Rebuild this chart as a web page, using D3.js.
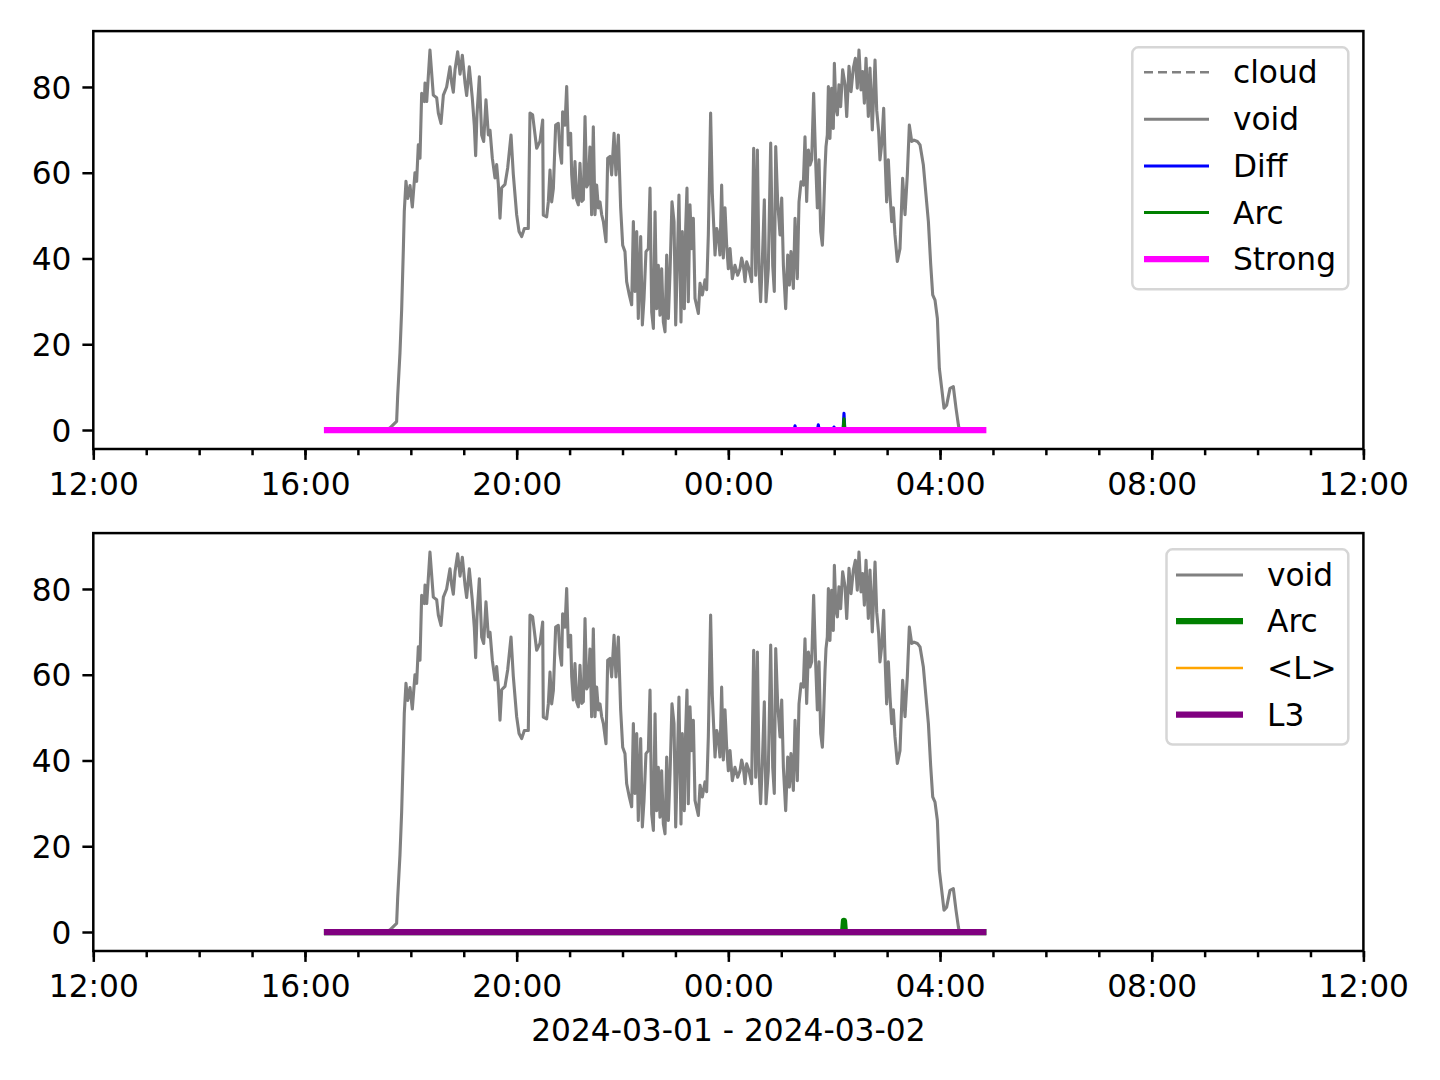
<!DOCTYPE html>
<html>
<head>
<meta charset="utf-8">
<script src="https://cdn.jsdelivr.net/npm/d3@7"></script>
<style>
html,body{margin:0;padding:0;background:#fff;}
svg{display:block;}
text{font-family:"DejaVu Sans",sans-serif;fill:#000;}
</style>
</head>
<body>
<svg id="chart" width="1440" height="1080"></svg>
<script>
// ---- data (minutes after 2024-03-01 12:00) ----
const voidMinutes = [265,330,336.4,343.9,345.1,347.7,349.6,351.5,352.6,354.5,356.4,359.1,361.7,364.7,366.6,368.5,370.4,372.3,375.3,376.1,378.0,381.7,385.5,389.3,391.2,394.2,396.9,400.6,404.4,406.3,408.2,410.1,413.1,415.8,418.4,421.4,423.3,426.3,429.7,432.0,433.5,435.0,437.7,440.3,442.6,445.2,447.9,449.8,452.4,455.4,457.3,459.2,461.1,463.0,466.8,469.8,473.6,476.2,480.0,482.7,485.7,488.7,493.2,
495.1,498.1,502.7,506.4,509.5,510.2,514.0,515.9,517.8,519.7,521.6,524.2,527.2,529.1,531.0,532.1,534.8,536.7,538.6,541.2,542.4,544.2,546.1,548.0,549.9,551.8,553.7,555.6,557.5,559.4,561.3,563.1,565.0,566.9,568.8,570.7,572.6,574.5,576.4,578.3,581.3,583.2,585.8,587.7,590.4,592.6,595.3,597.9,600.2,602.8,604.7,607.7,610.4,612.3,614.2,616.1,617.9,620.6,622.5,624.4,626.6,629.3,631.2,633.1,635.0,636.9,638.7,640.6,642.5,644.4,646.3,648.2,650.1,652.0,653.9,656.1,658.4,660.3,
664.0,666.3,667.8,670.1,671.6,673.1,674.6,676.5,678.4,680.3,682.2,686.0,687.9,690.5,693.5,695.4,697.3,699.9,701.8,704.9,706.8,708.6,710.5,712.4,714.3,716.2,718.1,720.0,721.9,724.5,727.5,730.6,733.2,735.1,737.0,738.9,740.8,743.4,746.4,748.7,751.0,752.9,754.8,756.6,758.5,760.8,762.7,765.3,768.0,770.3,772.1,773.7,775.9,778.6,780.5,782.4,785.0,787.3,789.2,791.0,793.7,795.6,798.2,800.1,802.4,805.0,806.9,808.8,810.7,812.6,814.5,816.7,819.0,820.9,822.8,824.7,826.6,
827.7,829.6,830.7,832.2,833.4,835.2,837.1,839.0,840.2,842.0,843.6,845.4,847.3,849.6,852.3,854.2,856.8,859.1,861.7,864.0,866.2,868.1,870.4,872.3,874.2,876.1,878.7,880.6,883.2,886.3,888.2,890.4,891.9,893.8,896.1,898.0,899.5,901.4,903.3,905.2,907.1,908.9,911.6,914.6,917.6,920.3,922.9,925.2,927.9,930.5,934.3,937.3,941.1,944.1,946.8,949.4,951.7,954.3,957.0,959.2,961.9,964.5,967.5,971.3,975.1,978.1,980.8,981.9,1009];
const voidValues = [0,0,0.5,2,8,18,28,42,51,58,54,57,52,60,58,66.5,63.4,78.5,76.6,80.9,76.6,88.6,78.1,77.5,73.9,71.5,78.1,80,84.7,81,78.8,84,88.2,83,87.4,81,78,84.7,77.4,71,64,73.5,82.4,68.8,67.3,77,68.8,69.9,63.4,58.8,61.9,57.3,49.4,56.5,57.3,61.1,68.8,59.6,50.2,46.3,45.1,47.0,47.0,
73.9,73.5,65.7,67.3,72.3,50.1,49.7,53.2,60.6,53.2,56.3,71.1,71.5,64.9,62.2,74.2,71.1,80.1,66.5,69.2,59.5,54.1,62.6,53.7,52.5,62.2,53.3,53.7,73.1,56.7,57.5,66.0,50.2,70.7,50.2,57.1,51.8,53.2,50.2,48.6,43.9,63.4,63.8,59.5,69.2,59.5,68.8,51.8,43.1,41.6,34.6,31.5,29.2,48.6,32.3,46.3,26.0,45.1,24.5,30.7,41.6,42.3,56.4,27.5,23.7,50.9,28.3,38.4,26.8,37.6,25.2,22.9,40.8,26.0,36.9,53.2,48.6,24.5,
54.8,25.2,46.3,28.3,47.0,56.4,29.9,52.5,42.3,49.4,30.7,27.2,34.2,31.5,35.0,32.7,45.5,73.9,55.2,40.8,47.0,45.5,40.8,57.1,40.1,51.8,43.1,37.6,42.3,35.3,38.4,36.1,37.6,40.1,38.4,34.6,39.2,37.6,34.6,65.7,36.1,65.3,37.6,29.9,39.2,53.7,29.9,37.6,66.9,38.4,32.3,66.1,53.3,45.5,54.1,38.4,28.3,40.8,33.8,41.6,33.0,49.4,35.3,53.2,57.9,57.1,68.4,53.3,65.3,61.8,63.0,78.5,62.6,51.8,63.0,46.3,43.1,
48.6,61.0,66.1,68.8,80.1,68.0,79.7,70.3,85.5,75.0,73.5,80.5,75.4,84.0,80.5,73.1,84.8,78.9,84.4,86.7,79.7,88.6,79.3,83.6,76.2,86.7,73.1,84.4,70.0,86.3,74.6,69.6,63.0,66.5,75.0,61.8,53.2,63.0,54.8,48.6,51.8,45.5,39.3,42.3,58.7,50.2,59.5,71.1,67.3,67.6,67.3,66.5,61.8,54.8,48.6,38.7,31.5,30.3,26.0,14.4,9.7,5.1,5.8,9.7,10.1,5.1,1.2,0,0];

const cloudMinutes = [265,1009];
const cloudValues = [0,0];
const diffMinutes = [265,794.6,795.6,796.6,821,822,823,838.8,839.8,840.8,850.1,851.1,852.1,1009];
const diffValues = [0,0,1.0,0,0,1.2,0,0,0.7,0,0,3.9,0,0];
const arcMinutes = [265,850.1,851.1,852.1,1009];
const arcValues = [0,0,2.6,0,0];
const strongMinutes = [265,1009];
const strongValues = [0,0];
const lMinutes = [265,1009];
const lValues = [0,0];
const l3Minutes = [265,1009];
const l3Values = [0,0];

const yTicks = [0,20,40,60,80];
const xLabel = "2024-03-01 - 2024-03-02";

// ---- helpers ----
const base = new Date(2024,2,1,12,0,0);
const toDate = m => new Date(base.getTime() + m*60000);
const zip = (ms, vs) => ms.map((m,i)=>({t:toDate(m), v:vs[i]}));

const svg = d3.select("#chart");
const FS = 31.25;
const left = 93.3, right = 1363.4;
const x = d3.scaleTime().domain([base, toDate(1440)]).range([left, right]);

function panel(top, bottom, series, legend) {
  const y = d3.scaleLinear().domain([-4.43, 93.03]).range([bottom, top]);
  const g = svg.append("g");
  const line = d3.line().x(d=>x(d.t)).y(d=>y(d.v));
  series.forEach(s => {
    g.append("path").datum(zip(s.m, s.v))
      .attr("d", line).attr("fill","none")
      .attr("stroke", s.color).attr("stroke-width", s.w)
      .attr("stroke-linejoin","round")
      .attr("stroke-linecap", s.dash ? "butt" : "square")
      .attr("stroke-dasharray", s.dash || null);
  });
  // frame
  g.append("rect").attr("x",left).attr("y",top).attr("width",right-left).attr("height",bottom-top)
    .attr("fill","none").attr("stroke","#000").attr("stroke-width",2.5);
  // x axis minor
  const xMinor = g.append("g").attr("transform",`translate(0,${bottom})`)
    .call(d3.axisBottom(x).ticks(d3.timeHour.every(1)).tickSize(6.25).tickFormat(""));
  xMinor.select(".domain").remove();
  xMinor.selectAll("line").attr("stroke","#000").attr("stroke-width",2.5);
  const xMajor = g.append("g").attr("transform",`translate(0,${bottom})`)
    .call(d3.axisBottom(x).ticks(d3.timeHour.every(4)).tickSize(10.9).tickPadding(13.4).tickFormat(d3.timeFormat("%H:%M")));
  xMajor.select(".domain").remove();
  xMajor.selectAll("line").attr("stroke","#000").attr("stroke-width",2.5);
  xMajor.selectAll("text").attr("font-size",FS).attr("font-family","DejaVu Sans");
  // y axis
  const ya = g.append("g").attr("transform",`translate(${left},0)`)
    .call(d3.axisLeft(y).tickValues(yTicks).tickSize(10.9).tickPadding(10.9));
  ya.select(".domain").remove();
  ya.selectAll("line").attr("stroke","#000").attr("stroke-width",2.5);
  ya.selectAll("text").attr("font-size",FS).attr("font-family","DejaVu Sans").attr("dy","0.36em");
  // legend
  const lg = g.append("g");
  lg.append("rect").attr("x",legend.x0).attr("y",legend.y0)
    .attr("width",legend.x1-legend.x0).attr("height",legend.y1-legend.y0)
    .attr("rx",6).attr("fill","#fff").attr("fill-opacity",0.8)
    .attr("stroke","#d6d6d6").attr("stroke-width",2.5);
  legend.items.forEach((it,i) => {
    const ry = legend.rows[i];
    lg.append("line").attr("x1",legend.lx0).attr("x2",legend.lx1).attr("y1",ry).attr("y2",ry)
      .attr("stroke",it.color).attr("stroke-width",it.w)
      .attr("stroke-dasharray",it.dash||null);
    lg.append("text").attr("x",legend.tx).attr("y",ry+11).attr("font-size",FS).text(it.name);
  });
  return y;
}

const topSeries = [
  {name:"cloud", m:cloudMinutes, v:cloudValues, color:"#808080", w:2.5, dash:"9,5"},
  {name:"void", m:voidMinutes, v:voidValues, color:"#808080", w:3.1},
  {name:"Diff", m:diffMinutes, v:diffValues, color:"#0000ff", w:3.1},
  {name:"Arc", m:arcMinutes, v:arcValues, color:"#008000", w:3.1},
  {name:"Strong", m:strongMinutes, v:strongValues, color:"#ff00ff", w:6.25}
];
panel(31.1, 449, topSeries, {
  x0:1132.3, x1:1348.3, y0:47.3, y1:289.3, lx0:1144, lx1:1209, tx:1233,
  rows:[72.3,119.3,166,212.5,259],
  items: topSeries.map(s=>({name:s.name,color:s.color,w:s.w,dash:s.dash}))
});

const botSeries = [
  {name:"void", m:voidMinutes, v:voidValues, color:"#808080", w:3.1},
  {name:"Arc", m:arcMinutes, v:arcValues, color:"#008000", w:6.25},
  {name:"<L>", m:lMinutes, v:lValues, color:"#ffa500", w:2.6},
  {name:"L3", m:l3Minutes, v:l3Values, color:"#800080", w:6.25}
];
panel(533.1, 951, botSeries, {
  x0:1166.5, x1:1348.3, y0:549.3, y1:744.5, lx0:1176, lx1:1243, tx:1267,
  rows:[575,621,668,714.5],
  items: botSeries.map(s=>({name:s.name,color:s.color,w:s.w}))
});

svg.append("text").attr("x",(left+right)/2).attr("y",1041).attr("text-anchor","middle")
  .attr("font-size",FS).text(xLabel);
</script>
</body>
</html>
